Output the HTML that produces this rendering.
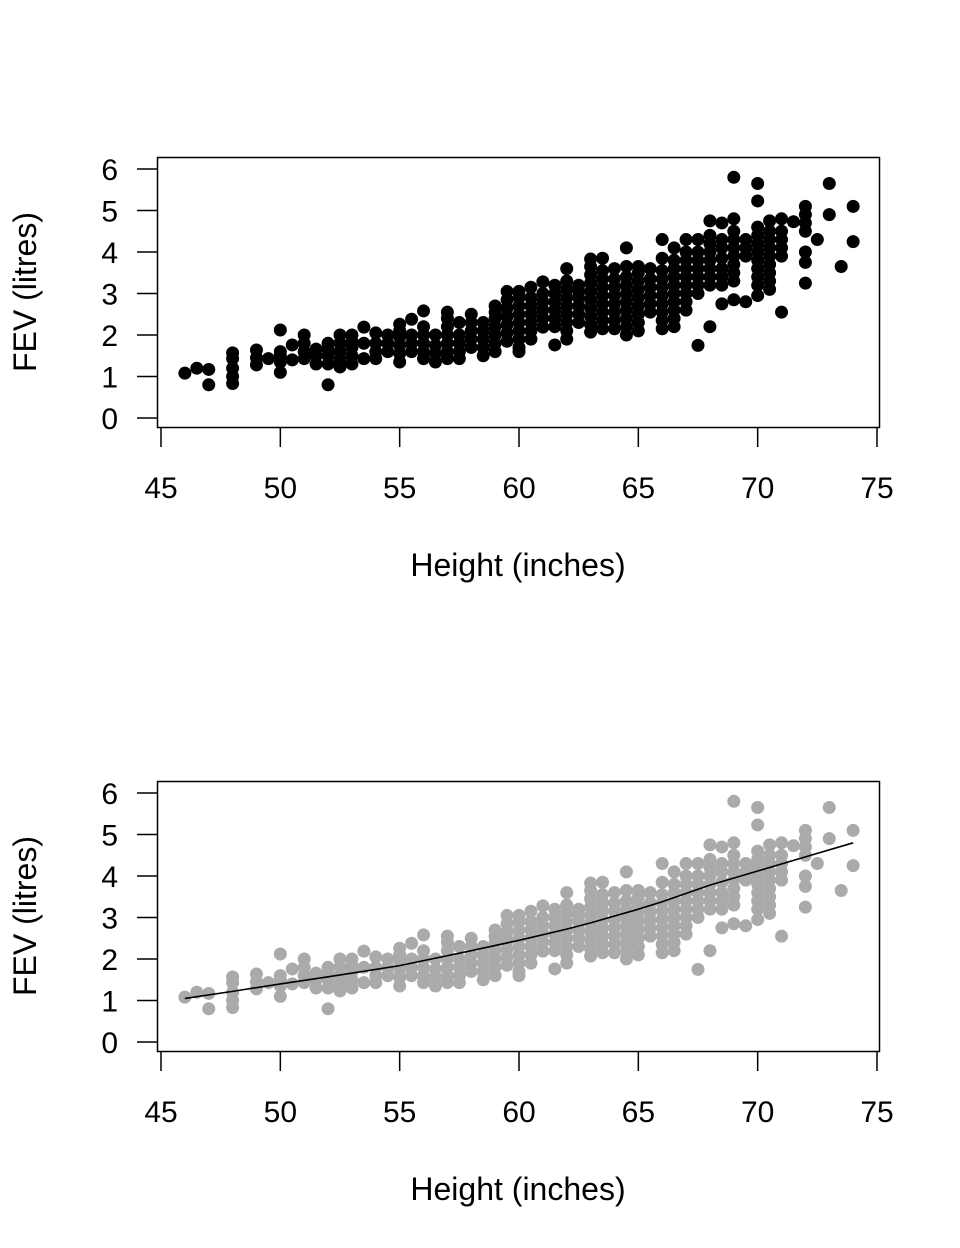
<!DOCTYPE html>
<html><head><meta charset="utf-8"><style>
body{margin:0;background:#fff}
svg{display:block}
text{font-family:"Liberation Sans",sans-serif;font-size:30px;fill:#000}
text.title{font-size:32px}
</style></head><body>
<svg id="c" width="960" height="1248"></svg>
<script>
const heights=[46,46.5,47,48,49,49.5,50,50.5,51,51.5,52,52.5,53,53.5,54,54.5,55,55.5,56,56.5,57,57.5,58,58.5,59,59.5,60,60.5,61,61.5,62,62.5,63,63.5,64,64.5,65,65.5,66,66.5,67,67.5,68,68.5,69,69.5,70,70.5,71,71.5,72,72.5,73,73.5,74];
const fevs=[
[1.08],[1.2],[1.17,0.8],[1.57,1.43,1.2,1.0,0.83],[1.28,1.45,1.64],[1.43],[2.12,1.35,1.5,1.6,1.1],[1.76,1.4],
[1.43,1.6,1.8,2.0],[1.3,1.5,1.66],[1.3,1.5,1.65,1.8,0.8],[1.23,1.4,1.6,1.8,2.0],[1.3,1.5,1.7,1.85,2.0],[2.19,1.8,1.43],
[1.43,1.6,1.8,2.05],[1.6,1.8,2.0],[1.35,1.55,1.75,1.95,2.1,2.26],[2.38,1.6,1.8,2.0],[2.58,1.43,1.6,1.8,2.0,2.2],
[1.35,1.55,1.75,2.0],[1.43,1.6,1.8,2.0,2.2,2.4,2.55],[1.43,1.6,1.8,2.0,2.3],[1.7,1.9,2.1,2.3,2.5],[1.5,1.7,1.9,2.1,2.3],
[1.6,1.8,2.0,2.2,2.4,2.55,2.7],[1.85,2.05,2.25,2.45,2.65,2.85,3.05],[1.6,1.7,1.9,2.1,2.3,2.5,2.7,2.9,3.05],
[1.9,2.1,2.3,2.5,2.7,2.9,3.15],[2.19,2.4,2.6,2.8,3.0,3.28],[1.76,2.2,2.4,2.6,2.8,3.0,3.2],[1.9,2.1,2.3,2.5,2.7,2.9,3.1,3.3,3.6],
[2.3,2.5,2.7,2.9,3.05,3.2],[2.07,2.25,2.45,2.65,2.85,3.05,3.25,3.45,3.65,3.83],[2.15,2.35,2.55,2.75,2.95,3.15,3.35,3.55,3.85],
[2.15,2.35,2.55,2.75,2.95,3.15,3.35,3.6],[4.1,2.0,2.2,2.4,2.6,2.8,3.0,3.2,3.4,3.65],[2.1,2.3,2.5,2.7,2.9,3.1,3.3,3.5,3.65],
[2.55,2.75,2.95,3.15,3.35,3.6],[4.3,2.15,2.35,2.55,2.75,2.95,3.15,3.35,3.55,3.85],[2.2,2.4,2.6,2.8,3.0,3.2,3.4,3.6,3.8,4.1],
[2.6,2.8,3.0,3.2,3.4,3.6,3.8,4.0,4.3],[3.0,3.2,3.4,3.6,3.8,4.0,4.3,1.75],[3.2,3.4,3.6,3.8,4.0,4.2,4.4,4.75,2.2],
[3.2,3.4,3.6,3.85,4.1,4.3,4.7,2.75],[5.8,3.3,3.5,3.7,3.9,4.1,4.3,4.5,4.8,2.85],[3.9,4.1,4.3,2.8],
[5.65,5.23,3.4,3.6,3.8,4.0,4.2,4.4,4.6,2.95,3.2],[3.1,3.3,3.5,3.7,3.9,4.1,4.3,4.5,4.75],[3.9,4.1,4.3,4.5,4.8,2.55],
[4.73],[4.5,4.7,4.9,5.1,3.75,4.0,3.25],[4.3],[5.65,4.9],[3.65],[5.1,4.25]];
const smoothX=[46,48,50,52,55,58,60,62,63,65,66,68,70,72,74];
const smoothY=[1.05,1.22,1.4,1.57,1.84,2.2,2.45,2.72,2.87,3.2,3.38,3.78,4.12,4.46,4.8];
const xTicks=[45,50,55,60,65,70,75];
const yTicks=[0,1,2,3,4,5,6];

const NS='http://www.w3.org/2000/svg';
const svg=document.getElementById('c');
function mk(t,a,p){const e=document.createElementNS(NS,t);for(const k in a)e.setAttribute(k,a[k]);(p||svg).appendChild(e);return e;}
const sx=v=>161+(v-45)*716/30;

function panel(off,name,color,smooth){
  const sy=v=>418+off-v*41.5;
  const g=mk('g',{});
  
  
  const pts=mk('g',{},g);
  
  
  heights.forEach((h,i)=>fevs[i].forEach(f=>{
    const c=mk('circle',{cx:sx(h),cy:sy(f),r:6.5,fill:color},pts);
    
    
  }));
  if(smooth){
    const d=smoothX.map((x,i)=>(i?'L':'M')+sx(x)+','+sy(smoothY[i])).join('');
    const l=mk('path',{d:d,fill:'none',stroke:'#000','stroke-width':1.6},g);
    
    
  }
  const box=mk('rect',{x:157.5,y:157.5+off,width:722,height:270,fill:'none',stroke:'#000','stroke-width':1.5},g);
  
  
  const xa=mk('g',{},g);
  
  
  xTicks.forEach(t=>{
    mk('line',{x1:sx(t),x2:sx(t),y1:428+off,y2:447+off,stroke:'#000','stroke-width':1.5},xa);
    const tx=mk('text',{x:sx(t),y:498+off,'text-anchor':'middle'},xa);tx.textContent=t;
    
    
  });
  const ya=mk('g',{},g);
  
  
  yTicks.forEach(t=>{
    mk('line',{x1:137,x2:157,y1:sy(t),y2:sy(t),stroke:'#000','stroke-width':1.5},ya);
    const tx=mk('text',{x:118,y:sy(t)+11,'text-anchor':'end'},ya);tx.textContent=t;
    
    
  });
  const xt=mk('text',{x:518,y:576+off,'text-anchor':'middle','class':'title'},g);xt.textContent='Height (inches)';
  
  
  const yt=mk('text',{x:0,y:0,'text-anchor':'middle','class':'title',transform:'translate(36,'+(292+off)+') rotate(-90)'},g);yt.textContent='FEV (litres)';
  
  
}
panel(0,'top-scatter-panel','#000',false);
panel(624,'bottom-scatter-panel','#aaaaaa',true);
</script>
</body></html>
